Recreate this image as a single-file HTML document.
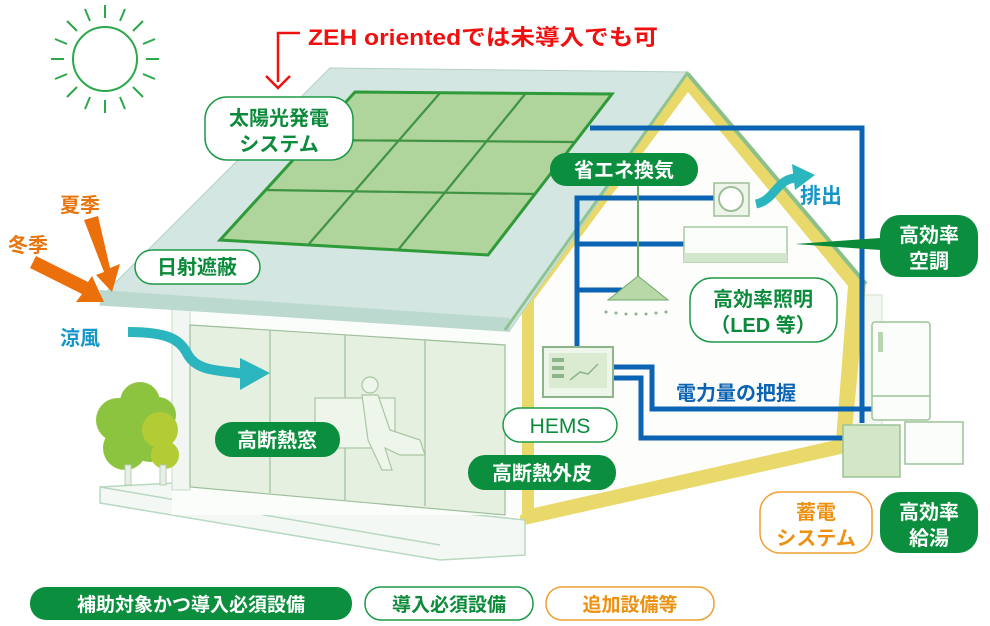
<!DOCTYPE html>
<html><head><meta charset="utf-8"><style>
html,body{margin:0;padding:0;background:#fff;}
svg{display:block;}
text{font-family:"Liberation Sans","Noto Sans CJK JP",sans-serif;}
</style></head><body>
<svg width="990" height="626" viewBox="0 0 990 626" xmlns="http://www.w3.org/2000/svg">
<!-- sun -->
<g stroke="#2aa84a" stroke-width="2" fill="none">
<circle cx="105" cy="59" r="32"/>
<g stroke-linecap="butt">
<line x1="105" y1="5" x2="105" y2="18"/><line x1="105" y1="100" x2="105" y2="113"/>
<line x1="51" y1="59" x2="64" y2="59"/><line x1="146" y1="59" x2="159" y2="59"/>
<line x1="67" y1="21" x2="77" y2="31"/><line x1="133" y1="87" x2="143" y2="97"/>
<line x1="143" y1="21" x2="133" y2="31"/><line x1="77" y1="87" x2="67" y2="97"/>
<line x1="85" y1="9" x2="90" y2="21"/><line x1="125" y1="9" x2="120" y2="21"/>
<line x1="85" y1="109" x2="90" y2="97"/><line x1="125" y1="109" x2="120" y2="97"/>
<line x1="55" y1="39" x2="67" y2="44"/><line x1="155" y1="39" x2="143" y2="44"/>
<line x1="55" y1="79" x2="67" y2="74"/><line x1="155" y1="79" x2="143" y2="74"/>
</g></g>
<!-- red note -->
<path d="M300 33 H278 V82" stroke="#f01010" stroke-width="2.5" fill="none"/>
<path d="M266 76 L278 88 L290 76" stroke="#f01010" stroke-width="2.5" fill="none"/>
<text x="308" y="45" font-size="22" font-weight="bold" fill="#f01010" textLength="350" lengthAdjust="spacingAndGlyphs">ZEH orientedでは未導入でも可</text>

<!-- back wall right extension -->
<rect x="850" y="295" width="32" height="140" fill="#f4f8f2" stroke="#cfe2c8"/>
<!-- gable yellow frame -->
<polygon points="688,74 866,284 850,452 520,526 520,292" fill="#e9d86a"/>
<polygon points="688,92 848,286 836,440 534,508 534,300" fill="#fdfdfb"/>
<line x1="688" y1="74" x2="866" y2="284" stroke="#8cc08a" stroke-width="4"/>
<!-- floor slab -->
<polygon points="100,487 175,483 525,520 525,555 440,560 100,503" fill="#f4f8f4" stroke="#b8d8c0" stroke-width="1.5"/>
<line x1="100" y1="487" x2="440" y2="545" stroke="#b8d8c0" stroke-width="1.5"/>
<!-- front wall -->
<rect x="172" y="300" width="350" height="215" fill="#fbfdfb"/>
<rect x="172" y="300" width="18" height="190" fill="#f2f6f2" stroke="#c8dcc8"/>
<polygon points="190,325 505,345 505,515 190,487" fill="#e6f0e0" stroke="#9dbf9a" stroke-width="1.2"/>
<g stroke="#9dbf9a" stroke-width="1.2">
<line x1="270" y1="330" x2="270" y2="493"/><line x1="345" y1="335" x2="345" y2="500"/><line x1="425" y1="340" x2="425" y2="506"/>
</g>
<!-- person chair -->
<g stroke="#aac6a4" fill="#eef5ea" stroke-width="1.2">
<rect x="315" y="398" width="80" height="50"/>
<circle cx="370" cy="385" r="8"/>
<path d="M362 395 L378 395 L390 430 L420 440 L425 455 L400 455 L385 448 L392 470 L382 470 L368 440 Z"/>
</g>
<!-- tree -->
<g fill="#8dc43f"><circle cx="118" cy="420" r="22"/><circle cx="140" cy="402" r="20"/><circle cx="125" cy="448" r="22"/><circle cx="150" cy="440" r="22"/><circle cx="158" cy="415" r="18"/></g>
<g fill="#b3cc35"><circle cx="160" cy="430" r="18"/><circle cx="165" cy="455" r="14"/></g>
<rect x="125" y="465" width="6" height="20" fill="#e8efe6" stroke="#b8ccb4"/>
<rect x="160" y="465" width="6" height="20" fill="#e8efe6" stroke="#b8ccb4"/>
<!-- roof -->
<polygon points="108,290 330,68 688,72 510,330 100,305" fill="#d3e6e1" stroke="#b3d2c8"/>
<polygon points="100,290 510,318 510,332 100,305" fill="#bcd9d0"/>
<line x1="688" y1="72" x2="505" y2="330" stroke="#8fc391" stroke-width="3"/>
<!-- solar panel -->
<polygon points="355,92 612,94 488,255 220,240" fill="#afd49c" stroke="#2f9a3a" stroke-width="3"/>
<g stroke="#3f9444" stroke-width="2.2">
<line x1="440" y1="93" x2="308" y2="245"/><line x1="526" y1="93" x2="398" y2="250"/>
<line x1="310" y1="140" x2="575" y2="142"/><line x1="265" y1="190" x2="536" y2="194"/>
</g>

<!-- blue lines -->
<g stroke="#0a63b3" stroke-width="5" fill="none">
<path d="M590 128 H862 V423"/>
<path d="M715 198 H577 V347"/>
<line x1="577" y1="244" x2="685" y2="244"/>
<line x1="577" y1="290" x2="622" y2="290"/>
<path d="M613 367 H652 V409 H872"/>
<path d="M613 378 H641 V438 H845"/>
</g>
<!-- lamp -->
<line x1="638" y1="186" x2="638" y2="278" stroke="#6aaa6a" stroke-width="2"/>
<polygon points="638,276 668,300 608,300" fill="#b8d8a8" stroke="#6aaa6a"/>
<g fill="#8cb08c"><circle cx="606" cy="312" r="1.5"/><circle cx="616" cy="313" r="1.5"/><circle cx="626" cy="314" r="1.5"/><circle cx="636" cy="314" r="1.5"/><circle cx="646" cy="314" r="1.5"/><circle cx="656" cy="313" r="1.5"/><circle cx="666" cy="312" r="1.5"/></g>
<!-- fan -->
<rect x="714" y="183" width="35" height="33" fill="#eef4ea" stroke="#9cbf98" stroke-width="1.5"/>
<circle cx="731" cy="199" r="12" fill="#fff" stroke="#9cbf98" stroke-width="2"/>
<path d="M756 204 C775 200 776 180 795 178" stroke="#2bb5be" stroke-width="9" fill="none"/>
<polygon points="792,164 815,175 795,190" fill="#2bb5be"/>
<text x="800" y="203" font-size="21" font-weight="bold" fill="#1596c8">排出</text>
<!-- AC -->
<rect x="684" y="227" width="103" height="35" fill="#fbfdfb" stroke="#a8caa4" stroke-width="1.5"/>
<rect x="684" y="253" width="103" height="9" fill="#d2e6cc"/>
<polygon points="795,244 880,238 880,250" fill="#0b8a3a"/>
<!-- HEMS box -->
<rect x="543" y="347" width="70" height="50" fill="#eef5ea" stroke="#8cb58a" stroke-width="2"/>
<rect x="549" y="353" width="58" height="35" fill="#dbebd2"/>
<g fill="#8cb58a"><rect x="552" y="358" width="12" height="4"/><rect x="552" y="366" width="12" height="4"/><rect x="552" y="374" width="12" height="4"/></g>
<path d="M570 380 L580 372 L588 374 L598 364" stroke="#8cb58a" stroke-width="1.5" fill="none"/>
<!-- appliances -->
<g stroke="#9cc498" stroke-width="1.5" fill="#fbfdfb">
<rect x="872" y="322" width="58" height="98" rx="3"/>
<line x1="872" y1="396" x2="930" y2="396"/>
<rect x="905" y="422" width="58" height="42"/>
<rect x="843" y="425" width="57" height="52" fill="#d3e6c6"/>
</g>
<rect x="878" y="332" width="5" height="20" fill="#b8d4b0"/>

<!-- labels -->
<g font-size="20" font-weight="bold">
<rect x="205" y="97" width="148" height="63" rx="22" fill="#fff" stroke="#1d9a48" stroke-width="1.5"/>
<text x="279" y="125" text-anchor="middle" fill="#0b8a3a">太陽光発電</text>
<text x="279" y="151" text-anchor="middle" fill="#0b8a3a">システム</text>

<rect x="135" y="250" width="125" height="34" rx="17" fill="#fff" stroke="#1d9a48" stroke-width="1.5"/>
<text x="197" y="274" text-anchor="middle" fill="#0b8a3a">日射遮蔽</text>

<text x="60" y="212" fill="#e8740e">夏季</text>
<text x="8" y="252" fill="#e8740e">冬季</text>
<polygon points="84,220 98,216 110,268 120,264 112,292 96,275 104,272" fill="#eb6f0a"/>
<polygon points="30,268 36,256 88,282 92,276 104,302 76,302 82,294" fill="#eb6f0a"/>

<text x="60" y="345" fill="#1596c8">涼風</text>
<path d="M128 332 C170 332 180 340 188 355 C198 372 220 370 245 374" stroke="#2bb5be" stroke-width="10" fill="none"/>
<polygon points="240,358 270,373 240,390" fill="#2bb5be"/>

<rect x="215" y="422" width="125" height="35" rx="17" fill="#0b8f3e"/>
<text x="277" y="447" text-anchor="middle" fill="#fff">高断熱窓</text>

<rect x="550" y="153" width="148" height="33" rx="16" fill="#0b8f3e"/>
<text x="624" y="177" text-anchor="middle" fill="#fff">省エネ換気</text>

<rect x="880" y="215" width="98" height="62" rx="20" fill="#0b8f3e"/>
<text x="929" y="242" text-anchor="middle" fill="#fff">高効率</text>
<text x="929" y="268" text-anchor="middle" fill="#fff">空調</text>

<rect x="690" y="278" width="147" height="64" rx="22" fill="#fff" stroke="#1d9a48" stroke-width="1.5"/>
<text x="763" y="306" text-anchor="middle" fill="#0b8a3a">高効率照明</text>
<text x="763" y="332" text-anchor="middle" fill="#0b8a3a">（LED 等）</text>

<text x="676" y="400" fill="#0a63b3">電力量の把握</text>

<rect x="503" y="408" width="114" height="34" rx="17" fill="#fff" stroke="#1d9a48" stroke-width="1.5"/>
<text x="560" y="433" text-anchor="middle" fill="#0b8a3a" font-size="21" font-weight="normal">HEMS</text>

<rect x="468" y="455" width="148" height="35" rx="17" fill="#0b8f3e"/>
<text x="542" y="480" text-anchor="middle" fill="#fff">高断熱外皮</text>

<rect x="760" y="492" width="112" height="61" rx="20" fill="#fff" stroke="#f0a030" stroke-width="1.5"/>
<text x="816" y="519" text-anchor="middle" fill="#ee9010">蓄電</text>
<text x="816" y="545" text-anchor="middle" fill="#ee9010">システム</text>

<rect x="880" y="492" width="98" height="61" rx="20" fill="#0b8f3e"/>
<text x="929" y="519" text-anchor="middle" fill="#fff">高効率</text>
<text x="929" y="545" text-anchor="middle" fill="#fff">給湯</text>
</g>

<!-- legend -->
<g font-size="19" font-weight="bold">
<rect x="30" y="587" width="322" height="33" rx="16" fill="#0b8f3e"/>
<text x="191" y="611" text-anchor="middle" fill="#fff">補助対象かつ導入必須設備</text>
<rect x="365" y="587" width="168" height="33" rx="16" fill="#fff" stroke="#1d9a48" stroke-width="1.5"/>
<text x="449" y="611" text-anchor="middle" fill="#0b8a3a">導入必須設備</text>
<rect x="546" y="587" width="168" height="33" rx="16" fill="#fff" stroke="#f0a030" stroke-width="1.5"/>
<text x="630" y="611" text-anchor="middle" fill="#ee9010">追加設備等</text>
</g>
</svg>
</body></html>
